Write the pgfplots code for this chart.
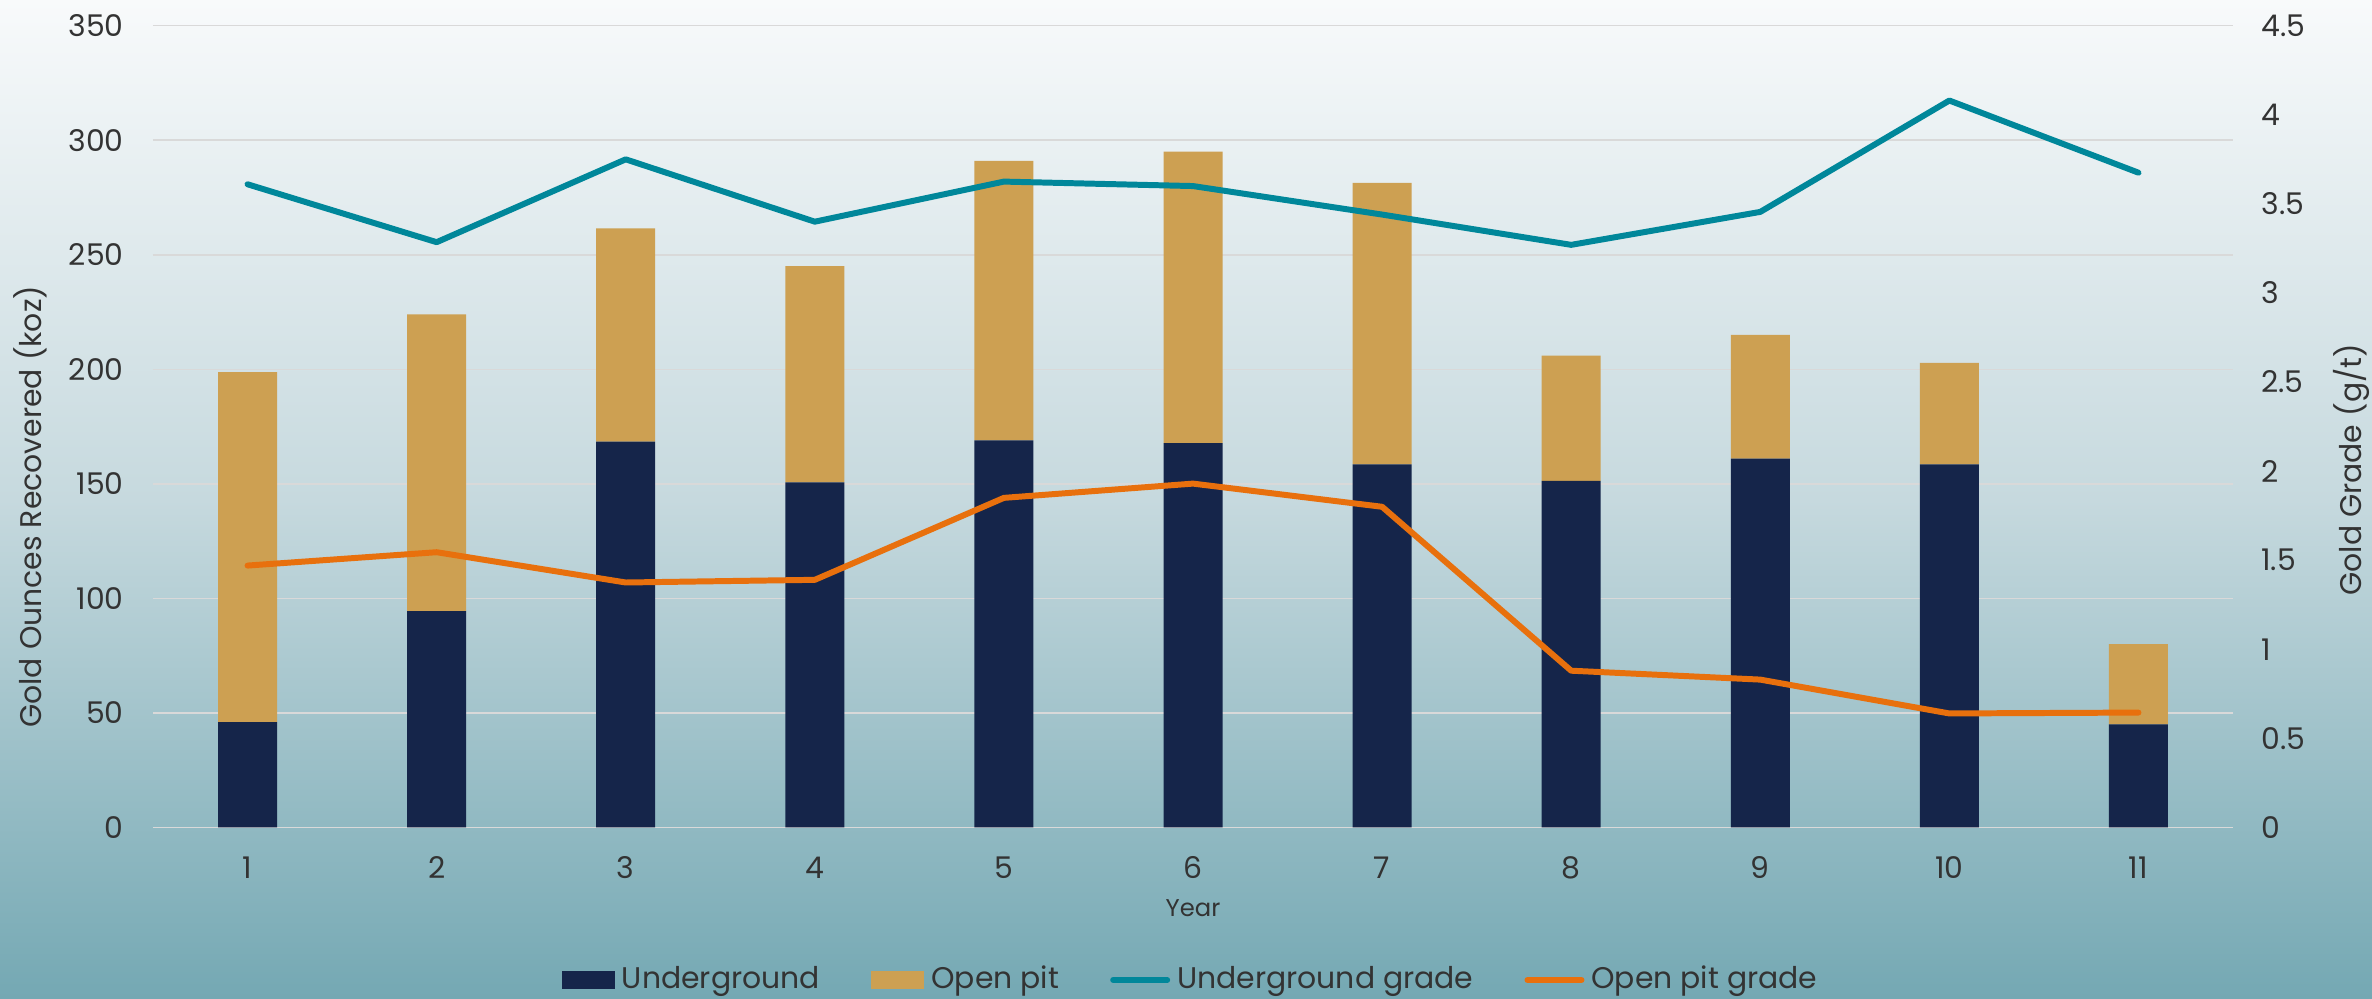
\documentclass[border=0pt]{standalone}
\usepackage{fontspec}
\setmainfont{Poppins}
\usepackage{pgfplots}
\pgfplotsset{compat=1.18}
\definecolor{ug}{HTML}{15254A}
\definecolor{op}{HTML}{CDA052}
\definecolor{ugl}{HTML}{00879A}
\definecolor{opl}{HTML}{E8700D}
\definecolor{gridc}{HTML}{D9D9D9}
\definecolor{txt}{HTML}{333333}
\definecolor{bgtop}{HTML}{F8FAFB}
\definecolor{bgmid}{HTML}{C6D9DE}
\definecolor{bgbot}{HTML}{74A8B3}
\begin{document}
\begin{tikzpicture}
\shade[top color=bgtop, bottom color=bgbot, middle color=bgmid] (-15.3mm,-17.15mm) rectangle (221.9mm,82.75mm);
\path[use as bounding box] (-15.3mm,-17.15mm) rectangle (221.9mm,82.75mm);
\pgfplotsset{
  common/.style={
    at={(0,0)}, anchor=south west,
    scale only axis, width=208mm, height=80.18mm,
    xmin=0.5, xmax=11.5,
    axis line style={draw=none}, major tick length=0pt,
    tick label style={font=\fontsize{8.5}{10}\selectfont, text=txt},
    /pgf/number format/assume math mode=true,
  }
}
\begin{axis}[
  common,
  ymin=0, ymax=350,
  xtick={1,2,3,4,5,6,7,8,9,10,11}, ytick={0,50,100,150,200,250,300,350},
  ybar stacked, bar width=5.9mm,
  ymajorgrids, grid style={draw=gridc, line width=0.45pt},
  yticklabel style={xshift=-1.7mm},
  xticklabel style={yshift=-1.7mm},
  xlabel={Year},
  xlabel style={at={(axis description cs:0.5,0)}, anchor=center, yshift=-8.05mm, font=\fontsize{6.9}{8}\selectfont, text=txt},
  ylabel={Gold Ounces Recovered (koz)},
  every axis y label/.style={at={(axis description cs:-0.0591,0.40)}, rotate=90, anchor=center, font=\fontsize{8.5}{10}\selectfont, text=txt},
]
\addplot[fill=ug, draw=none] coordinates {(1,46) (2,94.5) (3,168.4) (4,150.6) (5,169) (6,167.8) (7,158.5) (8,151.3) (9,161) (10,158.5) (11,45)};
\addplot[fill=op, draw=none] coordinates {(1,152.8) (2,129.5) (3,93.1) (4,94.4) (5,122) (6,127.2) (7,122.9) (8,54.7) (9,54) (10,44.3) (11,35)};
\end{axis}
\begin{axis}[
  common,
  ymin=0, ymax=4.5,
  axis x line=none,
  axis y line*=right,
  xtick=\empty,
  ytick={0,0.5,1,1.5,2,2.5,3,3.5,4,4.5},
  yticklabels={0,0.5,1,1.5,2,2.5,3,3.5,4,4.5},
  yticklabel style={xshift=1.6mm},
  ylabel={Gold Grade (g/t)},
  every axis y label/.style={at={(axis description cs:1.0567,0.446)}, rotate=90, anchor=center, font=\fontsize{8.5}{10}\selectfont, text=txt},
  legend image code/.code={\draw[#1, line cap=round] (0mm,0mm) -- (5.4mm,0mm);},
  legend style={at={(0.5,0)}, anchor=center, yshift=-15.25mm, draw=none, fill=none,
    font=\fontsize{8.5}{10}\selectfont, text=txt,
    /tikz/every even column/.append style={column sep=4.4mm}},
  legend columns=4, legend cell align=left,
]
\addlegendimage{legend image code/.code={\fill[ug] (0mm,-0.8mm) rectangle (5.2mm,0.8mm);}}
\addlegendentry{Underground}
\addlegendimage{legend image code/.code={\fill[op] (0mm,-0.8mm) rectangle (5.2mm,0.8mm);}}
\addlegendentry{Open pit}
\addplot[color=ugl, line width=1.7pt, line cap=round, line join=round, mark=none] coordinates {(1,3.61) (2,3.285) (3,3.75) (4,3.40) (5,3.625) (6,3.60) (7,3.44) (8,3.27) (9,3.455) (10,4.08) (11,3.675)};
\addlegendentry{Underground grade}
\addplot[color=opl, line width=1.7pt, line cap=round, line join=round, mark=none] coordinates {(1,1.47) (2,1.545) (3,1.375) (4,1.39) (5,1.85) (6,1.93) (7,1.80) (8,0.88) (9,0.83) (10,0.64) (11,0.645)};
\addlegendentry{Open pit grade}
\end{axis}
\end{tikzpicture}
\end{document}
